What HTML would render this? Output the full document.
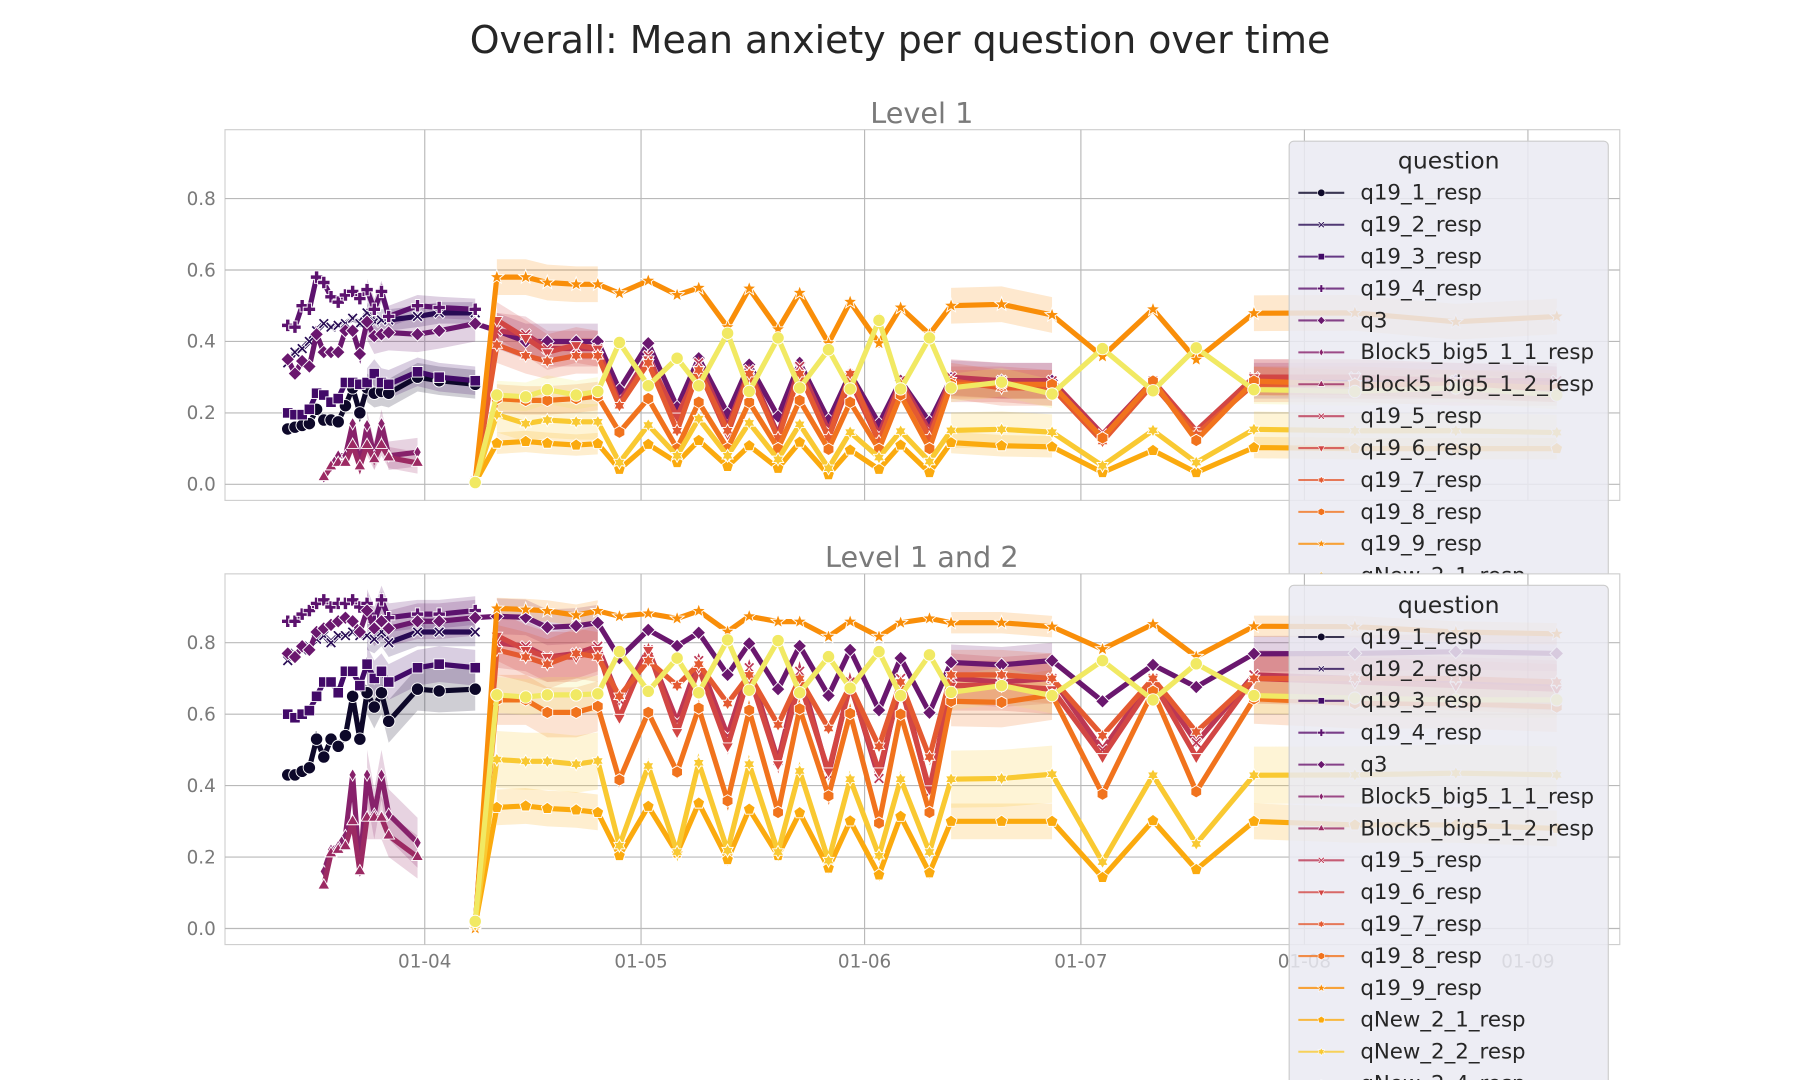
<!DOCTYPE html>
<html><head><meta charset="utf-8"><style>
html,body{margin:0;padding:0;background:#fff;}
svg{display:block;font-family:"Liberation Sans","DejaVu Sans",sans-serif;}
</style></head><body>
<svg id="fig" width="1800" height="1080" viewBox="0 0 1568 941" preserveAspectRatio="none" xmlns="http://www.w3.org/2000/svg">
<defs>
<clipPath id="clipTop"><rect x="196" y="113" width="1215" height="323"/></clipPath>
<clipPath id="clipBot"><rect x="196" y="500" width="1215" height="323"/></clipPath>
<clipPath id="clipFig"><rect x="0" y="0" width="1568" height="941"/></clipPath>
</defs>
<text x="784" y="46" text-anchor="middle" font-size="33" fill="#262626" font-family="DejaVu Sans, sans-serif">Overall: Mean anxiety per question over time</text>
<g id="root"></g>
</svg>
<script>
// ---- shared data ----
const earlyDays = [-19,-18,-17,-16,-15,-14,-13,-12,-11,-10,-9,-8,-7,-6,-5,-1,2,7];
const blockDays = [-14,-13,-12,-11,-10,-9,-8,-7,-6,-5,-1];
const lateDays = [7,10,14,17,21,24,27,31,35,38,42,45,49,52,56,59,63,66,70,73,80,87,94,101,107,115,129,143,157];
const q3Days = earlyDays.slice(0,17).concat(lateDays);
const xTickDays = [0,30,61,91,122,153];
const xTickLabels = ["01-04","01-05","01-06","01-07","01-08","01-09"];
const yTicks = [0,0.2,0.4,0.6,0.8];
const yTickLabels = ["0.0","0.2","0.4","0.6","0.8"];
const questionNames = ["q19_1_resp","q19_2_resp","q19_3_resp","q19_4_resp","q3","Block5_big5_1_1_resp","Block5_big5_1_2_resp","q19_5_resp","q19_6_resp","q19_7_resp","q19_8_resp","q19_9_resp","qNew_2_1_resp","qNew_2_2_resp","qNew_2_4_resp"];

// ---- Level 1 values ----
const t_q19_1 = [0.155,0.16,0.165,0.17,0.21,0.18,0.18,0.175,0.22,0.27,0.20,0.27,0.255,0.26,0.255,0.30,0.29,0.28];
const t_q19_2 = [0.34,0.37,0.38,0.40,0.43,0.45,0.44,0.445,0.45,0.465,0.45,0.48,0.455,0.46,0.46,0.47,0.48,0.48];
const t_q19_3 = [0.20,0.195,0.195,0.21,0.255,0.25,0.23,0.24,0.285,0.285,0.28,0.285,0.31,0.285,0.28,0.315,0.30,0.29];
const t_q19_4 = [0.445,0.44,0.50,0.49,0.58,0.565,0.525,0.51,0.53,0.54,0.52,0.545,0.49,0.54,0.47,0.50,0.495,0.49];
const t_q3 = [0.35,0.31,0.345,0.33,0.42,0.37,0.37,0.37,0.43,0.43,0.365,0.455,0.415,0.42,0.425,0.42,0.43,
  0.45,0.43,0.40,0.40,0.40,0.40,0.265,0.395,0.216,0.353,0.198,0.335,0.19,0.34,0.18,0.31,0.17,0.29,0.175,0.297,0.29,0.29,0.13,0.28,0.14,0.29,0.29,0.29,0.28];
const t_b1 = [0.02,0.05,0.08,0.08,0.17,0.05,0.165,0.08,0.17,0.08,0.09];
const t_b2 = [0.02,0.05,0.06,0.06,0.11,0.05,0.11,0.07,0.11,0.075,0.06];
const t_q19_5 = [0.01,0.43,0.42,0.38,0.38,0.38,0.23,0.36,0.17,0.34,0.16,0.32,0.14,0.33,0.15,0.30,0.14,0.29,0.15,0.30,0.29,0.29,0.14,0.29,0.14,0.30,0.30,0.29,0.29];
const t_q19_6 = [0.01,0.46,0.41,0.37,0.39,0.38,0.22,0.35,0.19,0.32,0.14,0.31,0.13,0.31,0.13,0.29,0.12,0.27,0.14,0.28,0.28,0.27,0.12,0.29,0.15,0.30,0.30,0.29,0.28];
const t_q19_7 = [0.01,0.39,0.36,0.345,0.36,0.36,0.22,0.34,0.15,0.32,0.15,0.31,0.13,0.31,0.13,0.31,0.12,0.28,0.13,0.29,0.27,0.27,0.12,0.28,0.14,0.28,0.28,0.27,0.27];
const t_q19_8 = [0.01,0.24,0.235,0.235,0.24,0.247,0.146,0.24,0.10,0.23,0.10,0.23,0.10,0.235,0.098,0.23,0.098,0.25,0.10,0.28,0.28,0.28,0.13,0.289,0.123,0.289,0.28,0.28,0.27];
const t_q19_9 = [0.01,0.58,0.58,0.565,0.56,0.56,0.535,0.57,0.53,0.55,0.44,0.548,0.434,0.536,0.395,0.511,0.395,0.495,0.42,0.50,0.504,0.474,0.358,0.49,0.349,0.479,0.48,0.455,0.47];
const t_n1 = [0.005,0.115,0.12,0.115,0.11,0.114,0.042,0.112,0.061,0.123,0.05,0.108,0.045,0.118,0.027,0.096,0.042,0.11,0.033,0.117,0.108,0.105,0.033,0.095,0.033,0.103,0.10,0.10,0.10];
const t_n2 = [0.01,0.195,0.17,0.18,0.175,0.175,0.061,0.166,0.08,0.184,0.08,0.172,0.07,0.168,0.045,0.146,0.075,0.149,0.064,0.151,0.154,0.146,0.052,0.151,0.061,0.154,0.15,0.15,0.145];
const t_n4 = [0.005,0.25,0.245,0.265,0.25,0.26,0.397,0.276,0.353,0.276,0.423,0.26,0.41,0.27,0.377,0.267,0.459,0.267,0.41,0.27,0.286,0.253,0.38,0.262,0.382,0.265,0.26,0.27,0.25];

// ---- Level 1 and 2 values ----
const b_q19_1 = [0.43,0.43,0.44,0.45,0.53,0.48,0.53,0.51,0.54,0.65,0.53,0.66,0.62,0.66,0.58,0.67,0.665,0.67];
const b_q19_2 = [0.75,0.77,0.78,0.79,0.81,0.82,0.80,0.82,0.82,0.83,0.82,0.82,0.81,0.83,0.80,0.83,0.83,0.83];
const b_q19_3 = [0.60,0.59,0.60,0.61,0.65,0.69,0.69,0.66,0.72,0.72,0.68,0.74,0.70,0.72,0.69,0.73,0.74,0.73];
const b_q19_4 = [0.86,0.86,0.88,0.89,0.91,0.92,0.90,0.91,0.91,0.92,0.90,0.91,0.86,0.92,0.87,0.88,0.88,0.89];
const b_q3 = [0.77,0.76,0.79,0.78,0.83,0.84,0.85,0.86,0.87,0.86,0.83,0.89,0.84,0.86,0.84,0.86,0.86,
  0.87,0.874,0.871,0.843,0.847,0.856,0.757,0.836,0.791,0.828,0.71,0.798,0.67,0.791,0.652,0.78,0.611,0.757,0.604,0.745,0.738,0.75,0.636,0.738,0.676,0.769,0.77,0.775,0.77];
const b_b1 = [0.16,0.22,0.23,0.26,0.43,0.16,0.43,0.32,0.43,0.32,0.24];
const b_b2 = [0.12,0.21,0.22,0.23,0.30,0.16,0.31,0.31,0.31,0.26,0.20];
const b_q19_5 = [0.01,0.80,0.79,0.76,0.77,0.79,0.64,0.78,0.58,0.75,0.54,0.73,0.47,0.72,0.43,0.69,0.42,0.70,0.38,0.70,0.69,0.70,0.50,0.70,0.52,0.71,0.70,0.69,0.68];
const b_q19_6 = [0.01,0.82,0.78,0.76,0.76,0.78,0.59,0.78,0.55,0.73,0.51,0.71,0.46,0.69,0.44,0.68,0.44,0.68,0.39,0.68,0.68,0.67,0.48,0.69,0.48,0.70,0.69,0.68,0.67];
const b_q19_7 = [0.01,0.78,0.76,0.74,0.77,0.76,0.65,0.75,0.68,0.74,0.63,0.71,0.57,0.70,0.56,0.68,0.51,0.69,0.48,0.71,0.71,0.70,0.54,0.70,0.55,0.70,0.70,0.70,0.69];
const b_q19_8 = [0.01,0.64,0.64,0.605,0.605,0.622,0.416,0.605,0.438,0.617,0.357,0.611,0.325,0.615,0.371,0.602,0.295,0.60,0.325,0.636,0.633,0.654,0.376,0.664,0.383,0.643,0.63,0.63,0.62];
const b_q19_9 = [0.0,0.896,0.893,0.889,0.877,0.889,0.874,0.882,0.868,0.889,0.831,0.874,0.859,0.859,0.817,0.859,0.817,0.856,0.868,0.856,0.856,0.845,0.782,0.852,0.761,0.846,0.845,0.83,0.825];
const b_n1 = [0.01,0.339,0.343,0.336,0.332,0.325,0.204,0.342,0.211,0.351,0.193,0.334,0.204,0.324,0.169,0.301,0.15,0.314,0.156,0.30,0.30,0.30,0.143,0.302,0.165,0.30,0.29,0.29,0.28];
const b_n2 = [0.01,0.473,0.468,0.468,0.46,0.469,0.232,0.455,0.214,0.464,0.218,0.46,0.214,0.441,0.19,0.418,0.204,0.418,0.214,0.418,0.42,0.432,0.186,0.429,0.237,0.429,0.43,0.435,0.43];
const b_n4 = [0.02,0.654,0.648,0.654,0.654,0.657,0.775,0.664,0.757,0.66,0.808,0.667,0.806,0.66,0.761,0.673,0.775,0.652,0.766,0.661,0.68,0.652,0.75,0.64,0.741,0.652,0.645,0.64,0.64];

// ---- styling (not data) ----
const colors = ["#0d0829","#280b54","#420a68","#5c126e","#6a176e","#87216b","#9c2a63","#bc3754","#d24644","#e45a31","#f1731d","#f98e09","#fbaa0e","#f9c932","#f1e963"];
const markers = ["circle","x","square","plus","diamond","thindiamond","triangle","xsquare","tridown","star6","hexagon","star","pentagon","star6","circle"];
const daysList = [earlyDays,earlyDays,earlyDays,earlyDays,q3Days,blockDays,blockDays,lateDays,lateDays,lateDays,lateDays,lateDays,lateDays,lateDays,lateDays];
const topVals = [t_q19_1,t_q19_2,t_q19_3,t_q19_4,t_q3,t_b1,t_b2,t_q19_5,t_q19_6,t_q19_7,t_q19_8,t_q19_9,t_n1,t_n2,t_n4];
const botVals = [b_q19_1,b_q19_2,b_q19_3,b_q19_4,b_q3,b_b1,b_b2,b_q19_5,b_q19_6,b_q19_7,b_q19_8,b_q19_9,b_n1,b_n2,b_n4];
const topHW = [0.04,0.03,0.04,0.03,0.05,0.04,0.03,0.05,0.05,0.05,0.04,0.05,0.03,0.05,0.04];
const botHW = [0.06,0.04,0.05,0.04,0.05,0.07,0.06,0.07,0.07,0.07,0.07,0.03,0.05,0.08,0.05];
const bandSegs = [[-8,7],[10,24],[73,87],[115,157]];

const NS = "http://www.w3.org/2000/svg";
const root = document.getElementById('root');
function mk(tag, attrs, parent){ const e=document.createElementNS(NS,tag); for(const k in attrs) e.setAttribute(k,attrs[k]); (parent||root).appendChild(e); return e; }

const X0=196, X1=1411, xZero=370, pxPerDay=6.281;
function xScale(d){ return xZero + d*pxPerDay; }

function markerShape(g, type, cx, cy, col){
  const r=5.4; let e;
  const st={fill:col, stroke:"#fff", "stroke-width":0.8};
  function poly(pts){ return mk('polygon', Object.assign({points:pts.map(p=>(cx+p[0])+','+(cy+p[1])).join(' ')},st), g); }
  function reg(n,rad,rot){ const p=[]; for(let i=0;i<n;i++){const a=rot+i*2*Math.PI/n; p.push([rad*Math.cos(a),rad*Math.sin(a)]);} return p; }
  function star(n,ro,ri){ const p=[]; for(let i=0;i<2*n;i++){const a=-Math.PI/2+i*Math.PI/n; const rr=i%2?ri:ro; p.push([rr*Math.cos(a),rr*Math.sin(a)]);} return p; }
  switch(type){
    case "circle": e=mk('circle',Object.assign({cx:cx,cy:cy,r:r},st),g); break;
    case "square": e=mk('rect',Object.assign({x:cx-r*0.85,y:cy-r*0.85,width:r*1.7,height:r*1.7},st),g); break;
    case "diamond": e=poly([[0,-r*1.1],[r*1.1,0],[0,r*1.1],[-r*1.1,0]]); break;
    case "thindiamond": e=poly([[0,-r],[r*0.6,0],[0,r],[-r*0.6,0]]); break;
    case "triangle": e=poly(reg(3,r*1.1,-Math.PI/2)); break;
    case "tridown": e=poly(reg(3,r*1.1,Math.PI/2)); break;
    case "hexagon": e=poly(reg(6,r,-Math.PI/2)); break;
    case "pentagon": e=poly(reg(5,r,-Math.PI/2)); break;
    case "star": e=poly(star(5,r*1.2,r*0.5)); break;
    case "star6": e=poly(star(6,r*1.05,r*0.6)); break;
    case "plus": { const a=r, b=r*0.35; e=poly([[-b,-a],[b,-a],[b,-b],[a,-b],[a,b],[b,b],[b,a],[-b,a],[-b,b],[-a,b],[-a,-b],[-b,-b]]); break; }
    case "x": case "xsquare": { const a=r*0.9,b=r*0.3; e=poly([[-a,-a+b],[-a+b,-a],[0,-b],[a-b,-a],[a,-a+b],[b,0],[a,a-b],[a-b,a],[0,b],[-a+b,a],[-a,a-b],[-b,0]]); break; }
  }
  return e;
}

function drawPanel(prefix, top, bottom, vals, hws, clipId, title, titleY){
  const y0 = bottom - 14, perUnit = 311.25;
  const yScale = v => y0 - v*perUnit;
  const g = mk('g',{});
  
  
  const bg = mk('rect',{x:X0,y:top,width:X1-X0,height:bottom-top,fill:"#fff",stroke:"#cfcfcf","stroke-width":1},g);
  
  
  const t = mk('text',{x:803,y:titleY,"text-anchor":"middle","font-size":25,fill:"#7a7a7a","font-family":"DejaVu Sans, sans-serif"},g);
  t.textContent = title;
  
  
  yTicks.forEach((v,i)=>{
    const yy=yScale(v);
    const l=mk('line',{x1:X0,x2:X1,y1:yy,y2:yy,stroke:"#b9b9b9","stroke-width":1},g);
    
    
    const tl=mk('text',{x:188,y:yy+5.5,"text-anchor":"end","font-size":16,fill:"#7a7a7a","font-family":"DejaVu Sans, sans-serif"},g);
    tl.textContent=yTickLabels[i];
    
    
  });
  xTickDays.forEach((d,i)=>{
    const xx=xScale(d);
    const l=mk('line',{x1:xx,x2:xx,y1:top,y2:bottom,stroke:"#b9b9b9","stroke-width":1},g);
    
    
    if(prefix==='level1and2'){
      const tl=mk('text',{x:xx,y:bottom+20,"text-anchor":"middle","font-size":16,fill:"#7a7a7a","font-family":"DejaVu Sans, sans-serif"},g);
      tl.textContent=xTickLabels[i];
      
      
    }
  });
  const pg = mk('g',{"clip-path":"url(#"+clipId+")"},g);
  vals.forEach((arr,si)=>{
    const days=daysList[si];
    bandSegs.forEach(seg=>{
      const idx=[]; days.forEach((d,i)=>{ if(d>=seg[0]&&d<=seg[1]) idx.push(i); });
      if(idx.length<2) return;
      const up=idx.map(i=>xScale(days[i])+','+yScale(arr[i]+hws[si]));
      const dn=idx.slice().reverse().map(i=>xScale(days[i])+','+yScale(Math.max(arr[i]-hws[si],-0.04)));
      const p=mk('polygon',{points:up.concat(dn).join(' '),fill:colors[si],"fill-opacity":0.2,stroke:"none"},pg);
      
      
    });
  });
  vals.forEach((arr,si)=>{
    const days=daysList[si];
    const sg=mk('g',{},pg);
    
    
    const pts=arr.map((v,i)=>xScale(days[i])+','+yScale(v)).join(' ');
    const pl=mk('polyline',{points:pts,fill:"none",stroke:colors[si],"stroke-width":4.5,"stroke-linejoin":"miter"},sg);
    
    
    arr.forEach((v,i)=>{
      const m=markerShape(sg,markers[si],xScale(days[i]),yScale(v),colors[si]);
      
      
    });
  });
}

function drawLegend(prefix, top){
  const g=mk('g',{"clip-path":"url(#clipFig)"});
  
  
  const box=mk('rect',{x:1123,y:top,width:278,height:470,rx:4,fill:"#eaeaf2","fill-opacity":0.85,stroke:"#cccccc","stroke-width":1},g);
  
  
  const tt=mk('text',{x:1262,y:top+24,"text-anchor":"middle","font-size":20.5,fill:"#262626","font-family":"DejaVu Sans, sans-serif"},g);
  tt.textContent="question";
  
  
  questionNames.forEach((n,i)=>{
    const yy=top+45+i*27.8;
    const eg=mk('g',{},g);
    
    
    mk('line',{x1:1131,x2:1171,y1:yy,y2:yy,stroke:colors[i],"stroke-width":1.8,"stroke-opacity":0.8},eg);
    const mm=markerShape(eg,markers[i],1151,yy,colors[i]);
    mm.setAttribute('transform','translate('+(1151*0.4)+','+(yy*0.4)+') scale(0.6)');
    const tx=mk('text',{x:1185,y:yy+6,"font-size":18.6,fill:"#262626","font-family":"DejaVu Sans, sans-serif"},eg);
    tx.textContent=n;
  });
}

drawPanel('level1',113,436,topVals,topHW,'clipTop','Level 1',107);
drawLegend('level1',123);
drawPanel('level1and2',500,823,botVals,botHW,'clipBot','Level 1 and 2',494);
drawLegend('level1and2',510);
</script>
</body></html>
